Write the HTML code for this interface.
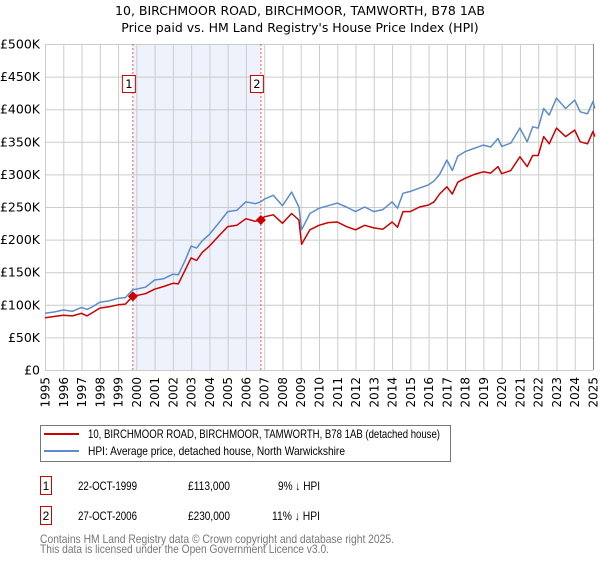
<!DOCTYPE html>
<html><head><meta charset="utf-8"><style>
body{margin:0;background:#fff;font-family:"Liberation Sans","DejaVu Sans",sans-serif;}
svg text{font-family:"DejaVu Sans","Liberation Sans",sans-serif;}
svg text.lib{font-family:"Liberation Sans","DejaVu Sans",sans-serif;}
</style></head><body>
<svg id="c" width="600" height="560" xmlns="http://www.w3.org/2000/svg">
<text x="300" y="15" text-anchor="middle" font-size="12.5" fill="#000">10, BIRCHMOOR ROAD, BIRCHMOOR, TAMWORTH, B78 1AB</text>
<text x="300" y="32" text-anchor="middle" font-size="12.5" fill="#000">Price paid vs. HM Land Registry's House Price Index (HPI)</text>
<g id="plot"></g>
<g>
<rect x="40.5" y="425.5" width="410" height="36" fill="#fff" stroke="#777"/>
<line x1="44" y1="434" x2="79" y2="434" stroke="#cc0000" stroke-width="2"/>
<text class="lib" x="88" y="438" font-size="12" textLength="352" lengthAdjust="spacingAndGlyphs">10, BIRCHMOOR ROAD, BIRCHMOOR, TAMWORTH, B78 1AB (detached house)</text>
<line x1="44" y1="451" x2="79" y2="451" stroke="#5b8ccc" stroke-width="2"/>
<text class="lib" x="88" y="455" font-size="12" textLength="257" lengthAdjust="spacingAndGlyphs">HPI: Average price, detached house, North Warwickshire</text>
</g>
<g font-size="12">
<rect x="40.5" y="476.5" width="11" height="18" fill="#fff" stroke="#cc0000"/>
<text class="lib" x="46" y="490" text-anchor="middle">1</text>
<text class="lib" x="78" y="490" textLength="59" lengthAdjust="spacingAndGlyphs">22-OCT-1999</text>
<text class="lib" x="188" y="490" textLength="42" lengthAdjust="spacingAndGlyphs">£113,000</text>
<text class="lib" x="278" y="490" textLength="42" lengthAdjust="spacingAndGlyphs">9% ↓ HPI</text>
<rect x="40.5" y="506.5" width="11" height="18" fill="#fff" stroke="#cc0000"/>
<text class="lib" x="46" y="520" text-anchor="middle">2</text>
<text class="lib" x="78" y="520" textLength="59" lengthAdjust="spacingAndGlyphs">27-OCT-2006</text>
<text class="lib" x="188" y="520" textLength="42" lengthAdjust="spacingAndGlyphs">£230,000</text>
<text class="lib" x="272" y="520" textLength="48" lengthAdjust="spacingAndGlyphs">11% ↓ HPI</text>
</g>
<text class="lib" x="40" y="543" font-size="12" fill="#777" textLength="354" lengthAdjust="spacingAndGlyphs">Contains HM Land Registry data © Crown copyright and database right 2025.</text>
<text class="lib" x="40" y="553" font-size="12" fill="#777" textLength="289" lengthAdjust="spacingAndGlyphs">This data is licensed under the Open Government Licence v3.0.</text>
</svg>
<script>
const dates=[1995,1995.5,1996,1996.5,1997,1997.3,1997.6,1998,1998.5,1999,1999.4,1999.8,2000.5,2001,2001.5,2002,2002.3,2002.7,2003,2003.3,2003.6,2004,2004.5,2005,2005.5,2006,2006.5,2006.82,2007,2007.5,2008,2008.5,2008.9,2009.05,2009.5,2010,2010.5,2011,2011.5,2012,2012.5,2013,2013.5,2014,2014.3,2014.6,2015,2015.5,2016,2016.3,2016.6,2017,2017.3,2017.6,2018,2018.5,2019,2019.4,2019.8,2020,2020.5,2021,2021.4,2021.7,2022,2022.3,2022.6,2023,2023.5,2024,2024.3,2024.7,2025,2025.1];
const priceSeries=[80,82,84,83,87,83,88,95,97,100,101,113,117,124,128,133,132,155,172,168,180,190,205,220,222,232,228,230,235,238,225,240,230,193,215,222,226,227,220,215,222,218,216,227,219,243,243,250,253,258,270,281,270,288,294,300,304,302,312,301,306,327,312,329,329,358,347,371,358,368,350,347,366,358];
const hpiSeries=[87,89,92,90,96,93,97,104,106,110,111,123,127,138,140,147,146,170,190,187,198,208,225,243,245,258,255,258,262,268,252,273,250,215,240,248,252,256,250,243,250,243,246,258,248,271,274,279,284,290,300,322,306,328,335,340,345,342,355,343,348,371,350,373,371,401,391,417,401,414,396,393,412,401];
const yTicks=[0,50,100,150,200,250,300,350,400,450,500];
const yTickLabels=["£0","£50K","£100K","£150K","£200K","£250K","£300K","£350K","£400K","£450K","£500K"];
const xTicks=[1995,1996,1997,1998,1999,2000,2001,2002,2003,2004,2005,2006,2007,2008,2009,2010,2011,2012,2013,2014,2015,2016,2017,2018,2019,2020,2021,2022,2023,2024,2025];
const saleDates=[1999.81,2006.82];
const salePrices=[113,230];
const saleLabels=["1","2"];

const NS="http://www.w3.org/2000/svg";
const X0=45,X1=593,Y0=370,Y1=44;
const xs=d=>X0+(d-1995)/(2025-1995)*(X1-X0);
const ys=v=>Y0-v/500*(Y0-Y1);
const plot=document.getElementById('plot');
function mk(tag,attrs,parent){const e=document.createElementNS(NS,tag);for(const k in attrs)e.setAttribute(k,attrs[k]);(parent||plot).appendChild(e);return e;}

const shade=mk('rect',{x:xs(saleDates[0]),y:Y1,width:xs(saleDates[1])-xs(saleDates[0]),height:Y0-Y1,fill:'#eef2fc'});



yTicks.forEach((t,i)=>{
 const l=mk('line',{x1:X0,x2:X1,y1:ys(t)+0.5,y2:ys(t)+0.5,stroke:'#cccccc'});
 
 
 const tx=mk('text',{x:X0-5,y:ys(t)+4.5,'text-anchor':'end','font-size':'12.5',fill:'#000'});
 tx.textContent=yTickLabels[i];
 
 
});
xTicks.forEach(t=>{
 const l=mk('line',{x1:xs(t)+0.5,x2:xs(t)+0.5,y1:Y1,y2:Y0,stroke:'#cccccc'});
 
 
 const tx=mk('text',{x:0,y:0,'text-anchor':'end','font-size':'12',fill:'#000',transform:`translate(${xs(t)+4.5},${Y0+7}) rotate(-90)`});
 tx.textContent=String(t);
 
 
});
const edge=mk('line',{x1:X1+0.5,x2:X1+0.5,y1:Y1,y2:Y0,stroke:'#888'});



saleDates.forEach((d,i)=>{
 const l=mk('line',{x1:xs(d),x2:xs(d),y1:Y1,y2:Y0,stroke:'#ee5555','stroke-dasharray':'2,2','stroke-width':1});
 
 
});

function path(vals,color,name){
 const d=dates.map((t,i)=>(i?'L':'M')+xs(t).toFixed(1)+','+ys(vals[i]).toFixed(1)).join('');
 const p=mk('path',{d:d,fill:'none',stroke:color,'stroke-width':1.5,'stroke-linejoin':'round'});
 
 
}
path(hpiSeries,'#5b8ccc','hpi-line');
path(priceSeries,'#cc0000','property-price-line');

saleDates.forEach((d,i)=>{
 const cx=xs(d),cy=ys(salePrices[i]);
 const m=mk('path',{d:`M${cx},${cy-5}L${cx+5},${cy}L${cx},${cy+5}L${cx-5},${cy}Z`,fill:'#cc0000'});
 
 
 const b=mk('rect',{x:cx-10.5,y:75.5,width:13,height:17,fill:'#fff',stroke:'#cc0000'});
 
 
 const t=mk('text',{x:cx-4,y:88,'text-anchor':'middle','font-size':'11.5',fill:'#000'});
 t.textContent=saleLabels[i];
 
 
});
</script>
</body></html>
